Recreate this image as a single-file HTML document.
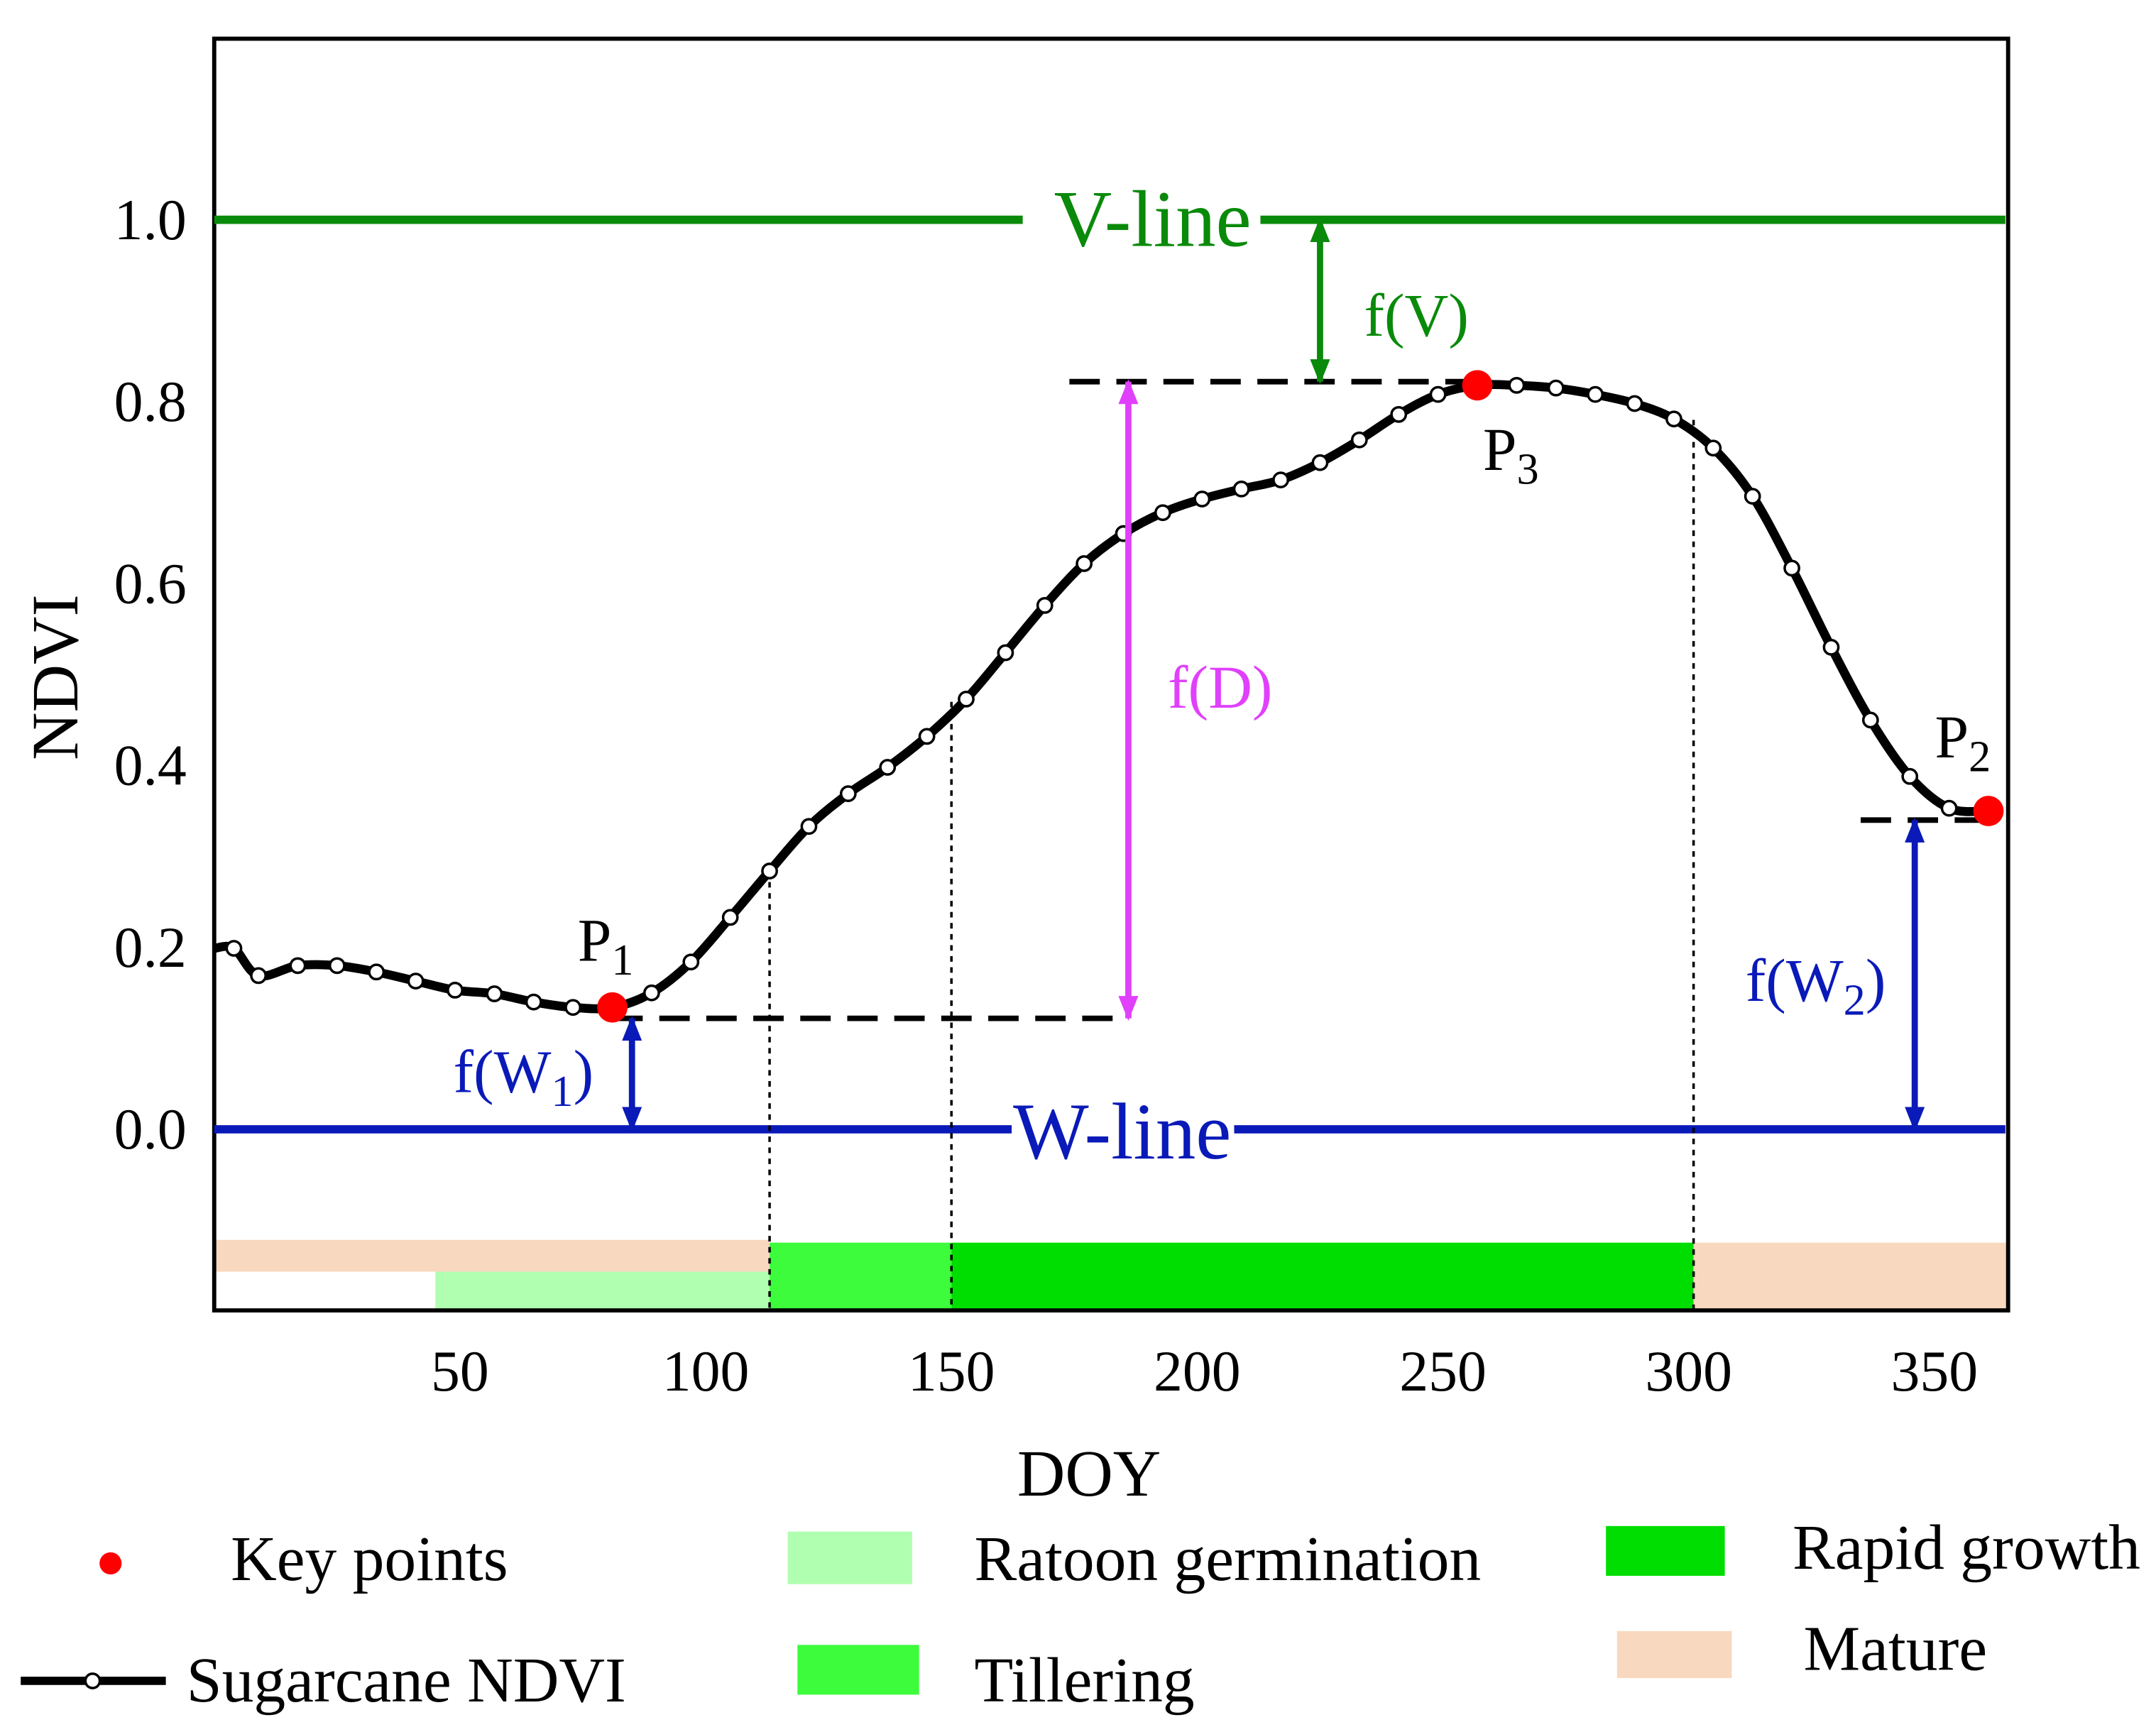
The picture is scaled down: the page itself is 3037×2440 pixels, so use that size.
<!DOCTYPE html>
<html><head><meta charset="utf-8"><style>html,body{margin:0;padding:0;background:#fff}svg{display:block}text{font-family:"Liberation Serif",serif}</style></head>
<body>
<svg id="chart" xmlns="http://www.w3.org/2000/svg" width="3037" height="2440" viewBox="0 0 1560 1253" preserveAspectRatio="none">
<defs>
<marker id="ag" viewBox="0 0 10 10" refX="9" refY="5" markerWidth="4" markerHeight="4" orient="auto-start-reverse"><path d="M0,1 L10,5 L0,9 Z" fill="#0a8a0a"/></marker>
<marker id="am" viewBox="0 0 10 10" refX="9" refY="5" markerWidth="4" markerHeight="4" orient="auto-start-reverse"><path d="M0,1 L10,5 L0,9 Z" fill="#e040fb"/></marker>
<marker id="ab" viewBox="0 0 10 10" refX="9" refY="5" markerWidth="4" markerHeight="4" orient="auto-start-reverse"><path d="M0,1 L10,5 L0,9 Z" fill="#0a1ab8"/></marker>
</defs>
<g id="phases"></g>
<g id="axes"></g>
<g id="marks"></g>
<g id="legend"></g>
</svg>
<script>
const doys=[4,9,17,25,33,41,49,57,65,73,81,89,97,105,113,121,129,137,145,153,161,169,177,185,193,201,209,217,225,233,241,249,257,265,273,281,289,297,305,313,321,329,337,345,353,361];
const ndvi=[0.199,0.169,0.18,0.18,0.173,0.163,0.153,0.149,0.14,0.134,0.134,0.15,0.184,0.233,0.284,0.333,0.369,0.398,0.432,0.473,0.524,0.576,0.622,0.655,0.678,0.693,0.704,0.714,0.733,0.758,0.786,0.808,0.818,0.818,0.815,0.808,0.798,0.781,0.749,0.696,0.617,0.53,0.45,0.388,0.353,0.35];
const keyDoys=[81,361,257];
const keyVals=[0.134,0.35,0.818];
const keyLabels=["1","2","3"];
const yTicks=[0,0.2,0.4,0.6,0.8,1.0];
const yTickLabels=["0.0","0.2","0.4","0.6","0.8","1.0"];
const xTicks=[50,100,150,200,250,300,350];
const phaseNames=["mature-early","ratoon-germination","tillering","rapid-growth","mature-late"];
const phaseStart=[0,45,113,150,301];
const phaseEnd=[113,113,150,301,365];
const phaseColors=["#f8d8be","#b0ffb0","#3cfc3c","#00dd00","#f8d8be"];
const levelP1=0.122, levelP3=0.822, levelP2=0.34;

const NS="http://www.w3.org/2000/svg";
const L=155,R=1453,T=28,B=948;
const X=d=>L+d*(R-L)/365;
const Y=v=>817-v*658;
function mk(parent,tag,attrs,text){const e=document.createElementNS(NS,tag);for(const k in attrs)e.setAttribute(k,attrs[k]);if(text!==undefined)e.textContent=text;document.getElementById(parent).appendChild(e);return e;}

phaseNames.forEach((n,i)=>{
  const top = i===0? 897 : (i===1? 920 : 899);
  const bot = i===0? 920 : 948;
  const e=mk('phases','rect',{x:X(phaseStart[i]),y:top,width:X(phaseEnd[i])-X(phaseStart[i]),height:bot-top,fill:phaseColors[i]});
  
  
});

let f=mk('axes','rect',{x:L,y:T,width:R-L,height:B-T,fill:'none',stroke:'#000','stroke-width':3});


yTicks.forEach((v,i)=>{
  const t=mk('axes','text',{x:135,y:Y(v)+14,'font-size':42,'text-anchor':'end'},yTickLabels[i]);
  
  
});
xTicks.forEach(d=>{
  const t=mk('axes','text',{x:X(d),y:1006,'font-size':42,'text-anchor':'middle'},String(d));
  
  
});
let xt=mk('axes','text',{x:788,y:1082,'font-size':48,'text-anchor':'middle'},'DOY');


let yt=mk('axes','text',{x:0,y:0,'font-size':48,'text-anchor':'middle',transform:'translate(56,490) rotate(-90)'},'NDVI');



let v1=mk('marks','line',{x1:L,x2:740,y1:Y(1),y2:Y(1),stroke:'#0a8a0a','stroke-width':6});

let v2=mk('marks','line',{x1:912,x2:1451,y1:Y(1),y2:Y(1),stroke:'#0a8a0a','stroke-width':6});

let vt=mk('marks','text',{x:834,y:Y(1)+19,'font-size':58,fill:'#0a8a0a','text-anchor':'middle'},'V-line');

let w1=mk('marks','line',{x1:L,x2:732,y1:Y(0),y2:Y(0),stroke:'#0a1ab8','stroke-width':6});

let w2=mk('marks','line',{x1:893,x2:1451,y1:Y(0),y2:Y(0),stroke:'#0a1ab8','stroke-width':6});

let wt=mk('marks','text',{x:812,y:Y(0)+21,'font-size':58,fill:'#0a1ab8','text-anchor':'middle'},'W-line');


[[113,0.284],[150,0.47],[301,0.78]].forEach(p=>{
  const e=mk('marks','line',{x1:X(p[0]),x2:X(p[0]),y1:Y(p[1]),y2:B,stroke:'#000','stroke-width':1.8,'stroke-dasharray':'4 4'});
  
  
});
[[81,186,levelP1],[174,257,levelP3],[335,361,levelP2]].forEach(p=>{
  const e=mk('marks','line',{x1:X(p[0]),x2:X(p[1]),y1:Y(p[2]),y2:Y(p[2]),stroke:'#000','stroke-width':4,'stroke-dasharray':'22 12'});
  
  
});

const pts=[[L,Y(ndvi[0])]].concat(doys.map((d,i)=>[X(d),Y(ndvi[i])]));
let dstr='M'+pts[0][0]+','+pts[0][1];
for(let i=0;i<pts.length-1;i++){
  const p0=pts[Math.max(0,i-1)],p1=pts[i],p2=pts[i+1],p3=pts[Math.min(pts.length-1,i+2)];
  const c1=[p1[0]+(p2[0]-p0[0])/6,p1[1]+(p2[1]-p0[1])/6];
  const c2=[p2[0]-(p3[0]-p1[0])/6,p2[1]-(p3[1]-p1[1])/6];
  dstr+=` C${c1[0]},${c1[1]} ${c2[0]},${c2[1]} ${p2[0]},${p2[1]}`;
}
let cv=mk('marks','path',{d:dstr,fill:'none',stroke:'#000','stroke-width':6.5});


doys.forEach((d,i)=>{
  const c=mk('marks','circle',{cx:X(d),cy:Y(ndvi[i]),r:5.2,fill:'#fff',stroke:'#000','stroke-width':1.8});
  
  
});

function arrow(x,v1,v2,id,color,name){
  const e=mk('marks','line',{x1:x,x2:x,y1:Y(v1),y2:Y(v2),stroke:color,'stroke-width':4.5,'marker-start':'url(#'+id+')','marker-end':'url(#'+id+')'});
  
  
}
arrow(X(225),1.0,levelP3,'ag','#0a8a0a','f-v-arrow');
arrow(X(186),levelP3,levelP1,'am','#e040fb','f-d-arrow');
arrow(X(85),levelP1,0,'ab','#0a1ab8','f-w1-arrow');
arrow(X(346),levelP2,0,'ab','#0a1ab8','f-w2-arrow');
function lab(x,y,color,main,sub,tail,name){
  const t=mk('marks','text',{x:x,y:y,'font-size':44,fill:color},'');
  
  
  const a=document.createElementNS(NS,'tspan');a.textContent=main;t.appendChild(a);
  if(sub){const s=document.createElementNS(NS,'tspan');s.setAttribute('dy','10');s.setAttribute('font-size','32');s.textContent=sub;t.appendChild(s);
    const r=document.createElementNS(NS,'tspan');r.setAttribute('dy','-10');r.textContent=tail;t.appendChild(r);}
}
lab(987,243,'#0a8a0a','f(V)','','','f-v-label');
lab(845,512,'#e040fb','f(D)','','','f-d-label');
lab(328,790,'#0a1ab8','f(W','1',')','f-w1-label');
lab(1263,724,'#0a1ab8','f(W','2',')','f-w2-label');

const keyLabelPos=[[418,695],[1400,548],[1073,340]];
keyDoys.forEach((d,i)=>{
  const c=mk('marks','circle',{cx:X(d),cy:Y(keyVals[i]),r:11,fill:'#f00'});
  
  
  lab(keyLabelPos[i][0],keyLabelPos[i][1],'#000','P',keyLabels[i],'','key-point-label');
});

let lk=mk('legend','circle',{cx:80,cy:1131,r:8,fill:'#f00'});

let lkt=mk('legend','text',{x:167,y:1143,'font-size':46},'Key points');

let ll=mk('legend','line',{x1:15,x2:120,y1:1216,y2:1216,stroke:'#000','stroke-width':6});

let lc=mk('legend','circle',{cx:67,cy:1216,r:5.2,fill:'#fff',stroke:'#000','stroke-width':1.8});

let llt=mk('legend','text',{x:135,y:1231,'font-size':46},'Sugarcane NDVI');

const legSw=[[570,1108,90,38,'#b0ffb0',705,1143,'Ratoon germination','legend-ratoon-germination'],
 [577,1190,88,36,'#3cfc3c',705,1231,'Tillering','legend-tillering'],
 [1162,1104,86,36,'#00dd00',1297,1135,'Rapid growth','legend-rapid-growth'],
 [1170,1180,83,34,'#f8d8be',1305,1208,'Mature','legend-mature']];
legSw.forEach(s=>{
  const r=mk('legend','rect',{x:s[0],y:s[1],width:s[2],height:s[3],fill:s[4]});
  
  
  const t=mk('legend','text',{x:s[5],y:s[6],'font-size':46},s[7]);
  
  
});
</script>
</body></html>
